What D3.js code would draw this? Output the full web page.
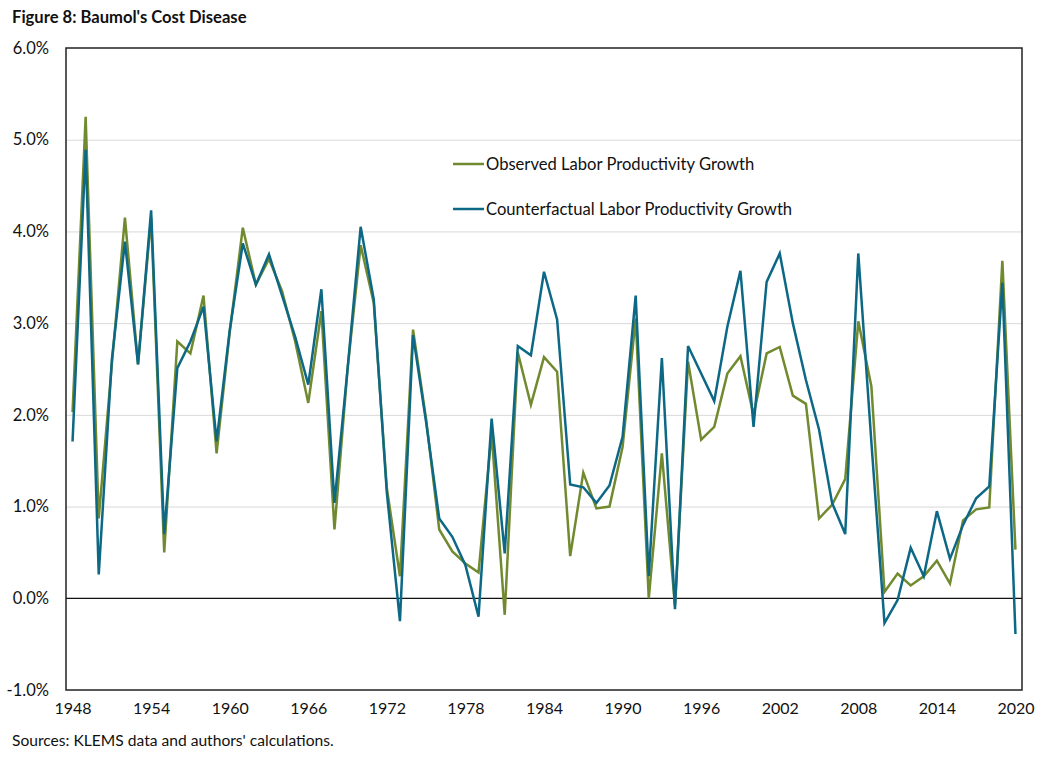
<!DOCTYPE html>
<html>
<head>
<meta charset="utf-8">
<script src="https://cdn.jsdelivr.net/npm/d3@7"></script>
<style>
  html, body { margin: 0; padding: 0; background: #fff; }
  svg { display: block; font-family: Lato, "Open Sans", sans-serif; }
</style>
</head>
<body>
<div id="chart"></div>
<script>
// Figure 8 : Baumol's Cost Disease

const YEARS = d3.range(1948, 2021);
const X_TICKS = [1948, 1954, 1960, 1966, 1972, 1978, 1984, 1990, 1996, 2002, 2008, 2014, 2020];
const Y_TICKS = [-1, 0, 1, 2, 3, 4, 5, 6];

const OBSERVED = [
  2.03, 5.25, 0.87, 2.55, 4.15, 2.55, 4.15, 0.50, 2.80, 2.67,
  3.30, 1.58, 2.90, 4.04, 3.42, 3.70, 3.35, 2.80, 2.13, 3.13,
  0.75, 2.50, 3.85, 3.22, 1.20, 0.24, 2.93, 1.95, 0.75, 0.51,
  0.38, 0.28, 1.80, -0.18, 2.68, 2.11, 2.63, 2.47, 0.46, 1.37,
  0.98, 1.00, 1.65, 3.05, 0.00, 1.58, -0.08, 2.58, 1.73, 1.87,
  2.45, 2.64, 2.00, 2.67, 2.74, 2.21, 2.12, 0.87, 1.02, 1.30,
  3.02, 2.31, 0.07, 0.27, 0.14, 0.24, 0.41, 0.16, 0.85, 0.97,
  0.99, 3.68, 0.53
];

const COUNTERFACTUAL = [
  1.71, 4.89, 0.26, 2.60, 3.89, 2.55, 4.23, 0.70, 2.51, 2.80,
  3.18, 1.71, 2.92, 3.87, 3.42, 3.75, 3.30, 2.85, 2.33, 3.37,
  1.04, 2.50, 4.05, 3.26, 1.15, -0.25, 2.87, 1.92, 0.87, 0.67,
  0.36, -0.20, 1.96, 0.49, 2.75, 2.65, 3.56, 3.04, 1.24, 1.21,
  1.04, 1.23, 1.76, 3.30, 0.24, 2.62, -0.12, 2.75, 2.45, 2.15,
  2.96, 3.57, 1.87, 3.45, 3.76, 3.00, 2.38, 1.84, 1.04, 0.70,
  3.76, 1.70, -0.27, -0.02, 0.55, 0.24, 0.95, 0.43, 0.80, 1.09,
  1.22, 3.44, -0.39
];

const SERIES = [
  { label: 'Observed Labor Productivity Growth', values: OBSERVED, color: '#728a2f' },
  { label: 'Counterfactual Labor Productivity Growth', values: COUNTERFACTUAL, color: '#0d6885' }
];

const W = 1044;
const H = 758;
const PLOT = { left: 66, right: 1022, top: 48, bottom: 690 };

const svg = d3.select('#chart')
  .append('svg')
  .attr('width', W)
  .attr('height', H)
  .attr('viewBox', `0 0 ${W} ${H}`);

svg.append('rect').attr('width', W).attr('height', H).attr('fill', '#fff');

const x = d3.scaleLinear()
  .domain([1947.5, 2020.5])
  .range([PLOT.left, PLOT.right]);

const y = d3.scaleLinear()
  .domain([-1, 6])
  .range([PLOT.bottom, PLOT.top]);

// titre
svg.append('text')
  .attr('x', 12)
  .attr('y', 23)
  .attr('font-weight', 700)
  .style('font-size', '16.6px')
  .attr('fill', '#111')
  .text("Figure 8: Baumol's Cost Disease");

// grille
svg.append('g')
  .attr('transform', `translate(${PLOT.left},0)`)
  .call(d3.axisLeft(y).tickValues(Y_TICKS.filter((v) => v > -1 && v < 6 && v !== 0))
    .tickSize(-(PLOT.right - PLOT.left)).tickFormat(''))
  .call((g) => g.select('.domain').remove())
  .call((g) => g.selectAll('line').attr('stroke', '#d9d9d9').attr('stroke-width', 1));

// axe y
svg.append('g')
  .attr('transform', `translate(${PLOT.left},0)`)
  .call(d3.axisLeft(y).tickValues(Y_TICKS).tickSize(0).tickPadding(17)
    .tickFormat((d) => d.toFixed(1) + '%'))
  .call((g) => g.select('.domain').remove())
  .call((g) => g.selectAll('text')
    .attr('fill', '#111')
    .style('font-size', '16.5px')
    .style('font-family', 'Lato, sans-serif'));

// axe x
svg.append('g')
  .attr('transform', `translate(0,${PLOT.bottom})`)
  .call(d3.axisBottom(x).tickValues(X_TICKS).tickSize(0).tickPadding(13)
    .tickFormat(String))
  .call((g) => g.select('.domain').remove())
  .call((g) => g.selectAll('text')
    .attr('fill', '#111')
    .style('font-size', '16px')
    .style('font-family', 'Lato, sans-serif'));

// ligne zéro
svg.append('line')
  .attr('x1', PLOT.left).attr('x2', PLOT.right)
  .attr('y1', y(0)).attr('y2', y(0))
  .attr('stroke', '#111')
  .attr('stroke-width', 1.2);

// séries
const line = d3.line()
  .x((d, i) => x(YEARS[i]))
  .y((d) => y(d));

for (const s of SERIES) {
  svg.append('path')
    .datum(s.values)
    .attr('d', line)
    .attr('fill', 'none')
    .attr('stroke', s.color)
    .attr('stroke-width', 2.5)
    .attr('stroke-linejoin', 'miter');
}

// cadre
svg.append('rect')
  .attr('x', PLOT.left)
  .attr('y', PLOT.top)
  .attr('width', PLOT.right - PLOT.left)
  .attr('height', PLOT.bottom - PLOT.top)
  .attr('fill', 'none')
  .attr('stroke', '#222')
  .attr('stroke-width', 1.5);

// légende
const legend = svg.append('g').attr('transform', 'translate(453,164)');
SERIES.forEach((s, i) => {
  const row = legend.append('g').attr('transform', `translate(0,${i * 45})`);
  row.append('line')
    .attr('x1', 0).attr('x2', 31)
    .attr('stroke', s.color)
    .attr('stroke-width', 2.5);
  row.append('text')
    .attr('x', 33)
    .attr('dy', '0.35em')
    .attr('fill', '#111')
    .style('font-size', '16.6px')
    .text(s.label);
});

// source
svg.append('text')
  .attr('x', 12)
  .attr('y', 746)
  .attr('fill', '#111')
  .style('font-size', '15.6px')
  .text("Sources: KLEMS data and authors' calculations.");
</script>
</body>
</html>
